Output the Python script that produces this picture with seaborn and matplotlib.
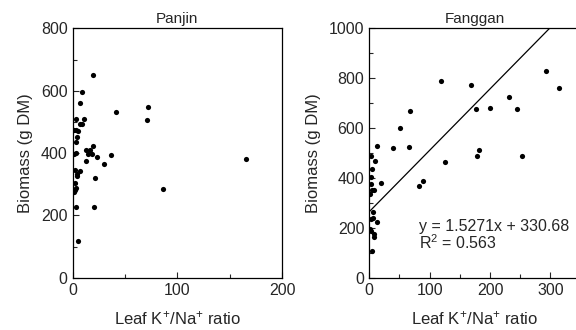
import pandas as pd
import seaborn as sns
import matplotlib.pyplot as plt
from matplotlib.ticker import MultipleLocator

# Panjin: leaf K+/Na+ ratio vs biomass
panjin_ratio = [19.1, 8.6, 7.3, 41.1, 72.3, 71.0, 3.2, 11.1, 7.3, 9.2,
                1.5, 3.2, 5.4, 4.1, 3.5, 12.7, 16.8, 19.4, 14.6, 18.2,
                1.5, 3.2, 13.0, 22.9, 36.6, 29.9, 2.5, 7.0, 4.4, 3.8,
                21.0, 1.9, 3.2, 2.5, 1.5, 3.2, 20.1, 5.4, 86.6, 165.3]
panjin_biomass = [652, 596, 560, 533, 549, 507, 510, 508, 494, 494,
                  475, 475, 470, 451, 435, 410, 410, 422, 396, 396,
                  397, 399, 376, 386, 394, 364, 346, 342, 333, 326,
                  319, 304, 289, 282, 274, 228, 228, 119, 284, 380]

# Fanggan
fanggan_ratio = [119.2, 167.8, 177.2, 199.2, 66.7, 50.8, 12.7, 39.7, 65.1, 2.2,
                 9.9, 5.0, 2.2, 2.2, 19.4, 4.5, 7.8, 1.1, 126.3, 181.0,
                 177.7, 82.8, 88.9, 5.5, 3.3, 6.1, 12.7, 1.7, 2.8, 7.2,
                 7.8, 4.5, 231.3, 245.0, 291.9, 314.6, 253.3]
fanggan_biomass = [789, 772, 675, 679, 667, 599, 528, 521, 525, 488,
                   469, 436, 405, 376, 381, 352, 352, 335, 463, 512,
                   489, 369, 389, 264, 237, 240, 223, 197, 189, 177,
                   165, 108, 725, 675, 828, 760, 488]

# fitted line as drawn in the figure
fit_x = [0, 298.5]
fit_y = [265, 1000]
eq_text = "y = 1.5271x + 330.68"
r2_text = "R$^{2}$ = 0.563"

sns.set_style("ticks")
plt.rcParams["font.family"] = ["Liberation Sans", "DejaVu Sans"]
plt.rcParams["mathtext.fontset"] = "custom"
plt.rcParams["mathtext.rm"] = "Liberation Sans"
plt.rcParams["mathtext.it"] = "Liberation Sans"
plt.rcParams["xtick.direction"] = "in"
plt.rcParams["ytick.direction"] = "in"

fig = plt.figure(figsize=(5.76, 3.3), dpi=100)
ax1 = fig.add_axes([0.126, 0.158, 0.364, 0.756])
ax2 = fig.add_axes([0.641, 0.158, 0.367, 0.756])

df1 = pd.DataFrame({"ratio": panjin_ratio, "biomass": panjin_biomass})
df2 = pd.DataFrame({"ratio": fanggan_ratio, "biomass": fanggan_biomass})

sns.scatterplot(data=df1, x="ratio", y="biomass", ax=ax1, color="black",
                s=14, linewidth=0)
sns.scatterplot(data=df2, x="ratio", y="biomass", ax=ax2, color="black",
                s=14, linewidth=0)
sns.lineplot(x=fit_x, y=fit_y, ax=ax2, color="black", linewidth=0.9)

xlabel = "Leaf K$^{+}$/Na$^{+}$ ratio"
for ax, title in [(ax1, "Panjin"), (ax2, "Fanggan")]:
    ax.set_title(title, fontsize=11, pad=4)
    ax.set_xlabel(xlabel, fontsize=12, labelpad=8)
    ax.set_ylabel("Biomass (g DM)", fontsize=12, labelpad=6)
    ax.tick_params(which="major", labelsize=11.5, length=4, width=0.8,
                   top=False, right=False)
    ax.tick_params(which="minor", length=3, width=0.8, top=False, right=False)
    for sp in ax.spines.values():
        sp.set_linewidth(0.9)
        sp.set_color("black")

ax1.set_xlim(0, 200)
ax1.set_ylim(0, 800)
ax1.xaxis.set_major_locator(MultipleLocator(100))
ax1.xaxis.set_minor_locator(MultipleLocator(50))
ax1.yaxis.set_major_locator(MultipleLocator(200))
ax1.yaxis.set_minor_locator(MultipleLocator(100))

ax2.set_xlim(0, 350)
ax2.set_ylim(0, 1000)
ax2.xaxis.set_major_locator(MultipleLocator(100))
ax2.xaxis.set_minor_locator(MultipleLocator(50))
ax2.yaxis.set_major_locator(MultipleLocator(200))
ax2.yaxis.set_minor_locator(MultipleLocator(100))
ax2.text(83, 204, eq_text, fontsize=11.5, ha="left", va="center")
ax2.text(83, 140, r2_text, fontsize=11.5, ha="left", va="center")

fig.savefig("out.png", dpi=100)
